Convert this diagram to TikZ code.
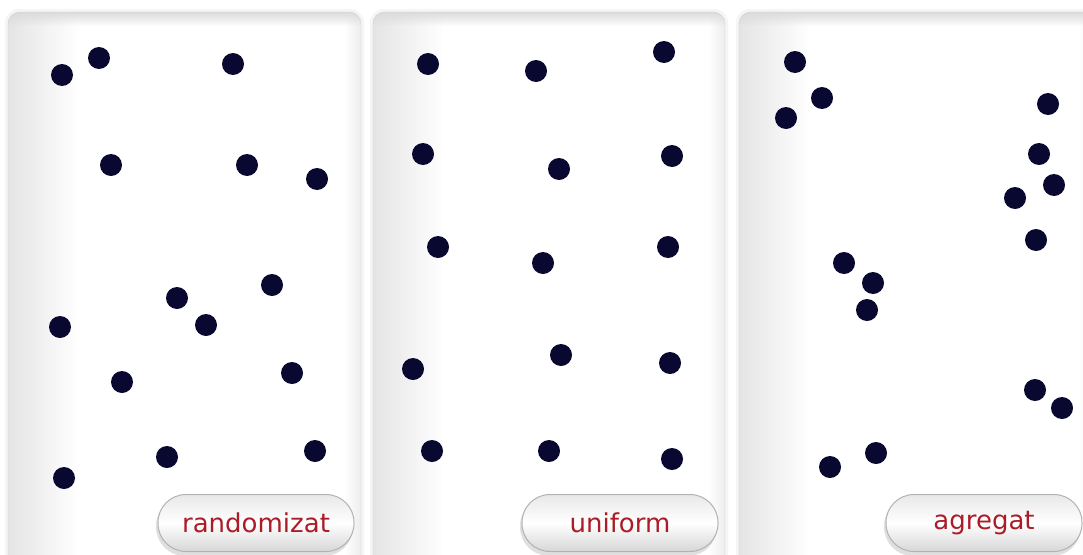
\documentclass[tikz,border=0pt]{standalone}
\usepackage{fontspec}
\setmainfont{DejaVu Sans}
\usetikzlibrary{fadings}
\definecolor{dotc}{RGB}{8,8,48}
\definecolor{labred}{RGB}{172,28,40}
\definecolor{edgec}{RGB}{205,205,205}
\begin{document}
\begin{tikzpicture}[x=1pt,y=-1pt,
  dot/.style={circle,fill=dotc,inner sep=0pt,minimum size=22pt},
  btn/.style={rounded corners=28pt,minimum width=196pt,minimum height=57pt,
    top color=gray!18,bottom color=gray!32,middle color=white,draw=gray!60,line width=1pt,
    text=labred,font=\fontsize{26}{29}\selectfont,inner sep=0pt}]
\useasboundingbox (0,0) rectangle (1083,554);
\fill[white] (0,0) rectangle (1083,554);
% panels
\foreach \xa/\xb in {8/361,373/725,739/1095}{
  \fill[gray!8,rounded corners=14pt] (\xa-3,9) rectangle (\xb+3,570);
  \begin{scope}
    \clip[rounded corners=12pt] (\xa,12) rectangle (\xb,570);
    \fill[white] (\xa,12) rectangle (\xb,570);
    \fill[gray!20,path fading=east] (\xa,12) rectangle (\xa+70,570);
    \fill[gray!14,path fading=west] (\xb-16,12) rectangle (\xb,570);
    \fill[gray!28,path fading=south] (\xa,12) rectangle (\xb,26);
  \end{scope}
  \draw[edgec,rounded corners=12pt] (\xa,570) -- (\xa,12) -- (\xb,12) -- (\xb,570);
}
% panel 1 dots
\foreach \x/\y [count=\i] in {62/75,99/58,233/64,111/165,247/165,317/179,177/298,272/285,60/327,206/325,122/382,292/373,167/457,315/451,64/478}
  \node[dot] (a\i) at (\x,\y) {};
% panel 2 dots
\foreach \x/\y [count=\i] in {428/64,536/71,664/52,423/154,559/169,672/156,438/247,543/263,668/247,413/369,561/355,670/363,432/451,549/451,672/459}
  \node[dot] (b\i) at (\x,\y) {};
% panel 3 dots
\foreach \x/\y [count=\i] in {795/62,822/98,786/118,1048/104,1039/154,1054/185,1015/198,1036/240,844/263,873/283,867/310,1035/390,1062/408,830/467,876/453}
  \node[dot] (c\i) at (\x,\y) {};
% button shadows
\foreach \cx in {256,620,984}
  \fill[gray!25,rounded corners=29pt] (\cx-100,497) rectangle (\cx+97,556);
% buttons
\node[btn] (l1) at (256,523) {randomizat};
\node[btn] (l2) at (620,523) {uniform};
\node[btn] (l3) at (984,523) {agregat};
\end{tikzpicture}
\end{document}
